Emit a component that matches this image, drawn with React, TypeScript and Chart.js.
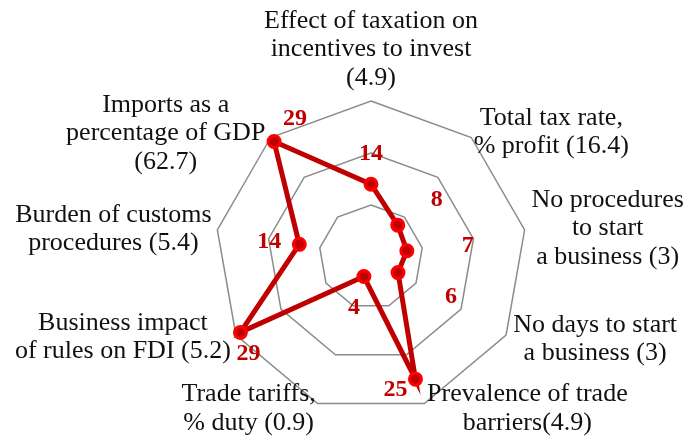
import React, { useEffect, useRef } from "react";
import { Chart, registerables } from "chart.js";

Chart.register(...registerables);

const categories: string[][] = [
  ["Effect of taxation on", "incentives to invest", "(4.9)"],
  ["Total tax rate,", "% profit (16.4)"],
  ["No procedures", "to start", "a business (3)"],
  ["No days to start", "a business (3)"],
  ["Prevalence of trade", "barriers(4.9)"],
  ["Trade tariffs,", "% duty (0.9)"],
  ["Business impact", "of rules on FDI (5.2)"],
  ["Burden of customs", "procedures (5.4)"],
  ["Imports as a", "percentage of GDP", "(62.7)"],
];

const values: number[] = [14, 8, 7, 6, 25, 4, 29, 14, 29];

const dataLabels: string[] = ["14", "8", "7", "6", "25", "4", "29", "14", "29"];

// pixel offsets of category label blocks from outer vertex (center x, first line middle y)
const categoryOffsets: [number, number][] = [
  [0, -80],
  [80, -19.5],
  [83, -30],
  [89, -10],
  [103, -9],
  [-69, -9],
  [-113, -12],
  [-104, -15],
  [-105, -32.5],
];

// pixel offsets of value labels from their points
const valueOffsets: [number, number][] = [
  [0, -30],
  [39, -25],
  [61, -5],
  [53, 24],
  [-20, 11],
  [-10, 31],
  [8, 21],
  [-30, -3],
  [21, -23],
];

const SERIF = "'Liberation Serif', 'Times New Roman', serif";

const labelPlugin = {
  id: "customLabels",
  afterDatasetsDraw(chart: any) {
    const ctx = chart.ctx;
    const scale = chart.scales.r;
    ctx.save();
    ctx.textAlign = "center";
    ctx.textBaseline = "middle";
    // category labels
    ctx.fillStyle = "#111111";
    ctx.font = `26px ${SERIF}`;
    categories.forEach((lines, i) => {
      const p = scale.getPointPosition(i, scale.drawingArea);
      const [dx, dy] = categoryOffsets[i];
      lines.forEach((line, j) => {
        ctx.fillText(line, p.x + dx, p.y + dy + j * 28.5);
      });
    });
    // value labels
    ctx.fillStyle = "#C00000";
    ctx.font = `bold 24px ${SERIF}`;
    const meta = chart.getDatasetMeta(0);
    meta.data.forEach((pt: any, i: number) => {
      const [dx, dy] = valueOffsets[i];
      ctx.fillText(dataLabels[i], pt.x + dx, pt.y + dy);
    });
    ctx.restore();
  },
};

export default function App() {
  const canvasRef = useRef<HTMLCanvasElement | null>(null);

  useEffect(() => {
    document.body.style.margin = "0";
    const canvas = canvasRef.current;
    if (!canvas) return;
    const chart = new Chart(canvas, {
      type: "radar",
      data: {
        labels: categories.map((c) => c.join(" ")),
        datasets: [
          {
            data: values,
            borderColor: "#C00000",
            borderWidth: 5,
            backgroundColor: "rgba(0,0,0,0)",
            fill: false,
            pointRadius: 6,
            pointBorderWidth: 3,
            pointBackgroundColor: "#C00000",
            pointBorderColor: "#FF0000",
            tension: 0,
          },
        ],
      },
      options: {
        animation: false,
        responsive: false,
        layout: { padding: { left: 215, top: 101, right: 162, bottom: 23 } },
        plugins: { legend: { display: false }, tooltip: { enabled: false } },
        scales: {
          r: {
            min: 0,
            max: 30,
            ticks: { display: false, stepSize: 10 },
            pointLabels: { display: false },
            angleLines: { display: false },
            grid: { color: "#8c8c8c", lineWidth: 1.5 },
          },
        },
      },
      plugins: [labelPlugin],
    });
    return () => chart.destroy();
  }, []);

  return (
    <div style={{ width: 689, height: 436, background: "#fff" }}>
      <canvas ref={canvasRef} width={689} height={436} style={{ width: 689, height: 436 }} />
    </div>
  );
}
